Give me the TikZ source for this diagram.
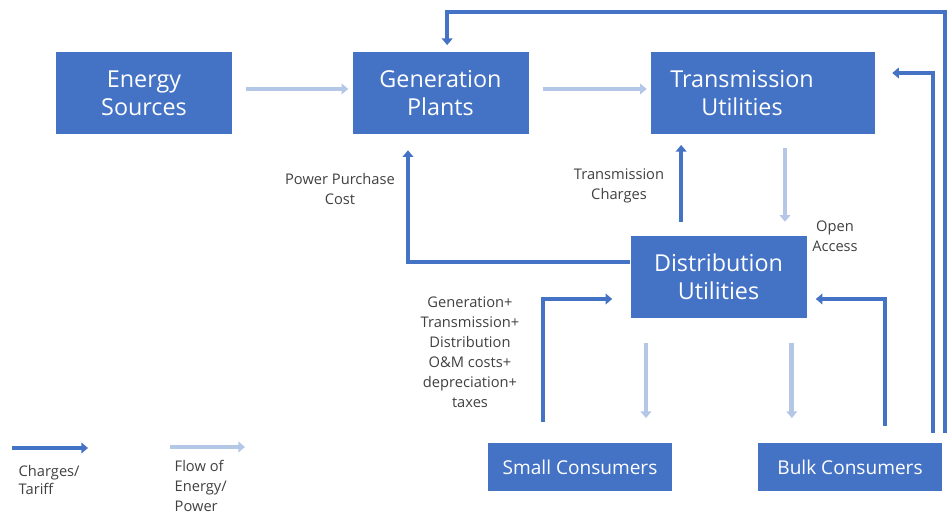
\documentclass[tikz,border=0pt]{standalone}
\usepackage{fontspec}
\setmainfont{Open Sans}
\usetikzlibrary{arrows.meta}
\definecolor{boxblue}{HTML}{4472C4}
\definecolor{flowblue}{HTML}{B4C7E7}
\definecolor{labelgray}{HTML}{404040}

\begin{document}
\begin{tikzpicture}[x=0.75pt,y=-0.75pt]
        \tikzstyle{block}=[rectangle,fill=boxblue,text=white,align=center,inner sep=0pt,
            minimum width=132pt,minimum height=61.5pt,font=\fontsize{17.5}{21}\selectfont]
        \tikzstyle{wide block}=[block,minimum width=168pt]
        \tikzstyle{consumer}=[block,minimum width=138pt,minimum height=36pt,font=\fontsize{14.3}{17}\selectfont]
        \tikzstyle{charge}=[draw=boxblue,line width=3.2pt,-{Triangle[length=5pt,width=8pt]}]
        \tikzstyle{flow}=[draw=flowblue,line width=3.6pt,-{Triangle[length=5pt,width=8pt]}]
        \tikzstyle{annot}=[text=labelgray,align=center,font=\fontsize{11}{15}\selectfont]
        \useasboundingbox (0,0) rectangle (950,515);

        % the blocks
        \node[block] (src) at (144,93) {Energy\\Sources};
        \node[block] (gen) at (440.5,93) {Generation\\Plants};
        \node[wide block] (trans) at (763,93) {};
        \node[block,fill=none,minimum width=0pt] (trans-text) at ([xshift=-15.75pt]trans.center) {Transmission\\Utilities};
        \node[block] (dist) at (718.5,277) {Distribution\\Utilities};
        \node[consumer] (small) at (580,467) {Small Consumers};
        \node[consumer] (bulk) at (850,467) {Bulk Consumers};

        % flow of energy
        \draw[flow,shorten <=10pt,shorten >=3pt] ([yshift=3pt]src.east) -- ([yshift=3pt]gen.west);
        \draw[flow,shorten <=11pt,shorten >=3pt] ([yshift=3pt]gen.east) -- ([yshift=3pt]trans.west);
        \draw[flow,shorten <=10.5pt,shorten >=10.5pt] ([xshift=16.5pt]trans.south) -- ([xshift=16.5pt]trans.south |- dist.north);
        \draw[flow,shorten <=18.5pt,shorten >=18.5pt] ([xshift=-54.4pt]dist.south) -- ([xshift=-54.4pt]dist.south |- small.north);
        \draw[flow,shorten <=18.5pt,shorten >=18.5pt] ([xshift=55pt]dist.south) -- ([xshift=55pt]dist.south |- bulk.north);

        % charges
        \draw[charge,shorten <=10.5pt,shorten >=8pt] ([xshift=-28pt]dist.north) -- ([xshift=-28pt]dist.north |- trans.south);
        \draw[charge,shorten >=12pt] ([yshift=11pt]dist.west) -| ([xshift=-24.4pt]gen.south);
        \draw[charge,shorten <=15.75pt,shorten >=13.5pt] ([xshift=-27.75pt]small.north) |- ([yshift=-16.5pt]dist.west);
        \draw[charge,shorten <=12.75pt,shorten >=6.75pt] ([xshift=26.25pt]bulk.north) |- ([yshift=-16.5pt]dist.east);
        \draw[charge,shorten <=7.5pt,shorten >=12.75pt] ([xshift=62.25pt]bulk.north) |- ([yshift=15pt]trans.east);
        \coordinate (bulk-out) at ([xshift=71.25pt,yshift=7.5pt]bulk.north);
        \coordinate (roof) at (600,12);
        \draw[charge,shorten >=5pt] (bulk-out) -- (bulk-out |- roof) -| ([xshift=5pt]gen.north);

        % labels
        \node[annot] (ppc) at (340,189) {Power Purchase\\Cost};
        \node[annot] (tc) at (619,186) {Transmission\\Charges};
        \node[annot] (oa) at (835,236) {Open\\Access};
        \node[annot] (costs) at (470,352) {Generation+\\Transmission+\\Distribution\\O\&M costs+\\depreciation+\\taxes};

        % legend
        \coordinate (lg-c) at (12,448);
        \coordinate (lg-f) at (170,447);
        \draw[charge] (lg-c) -- ++(76,0);
        \draw[flow] (lg-f) -- ++(75,0);
        \node[annot,anchor=north west,align=left,font=\fontsize{11}{13}\selectfont] (lg-ct) at (14,461) {Charges/\\Tariff};
        \node[annot,anchor=north west,align=left] (lg-ft) at (170,456) {Flow of\\Energy/\\Power};
\end{tikzpicture}
\end{document}
